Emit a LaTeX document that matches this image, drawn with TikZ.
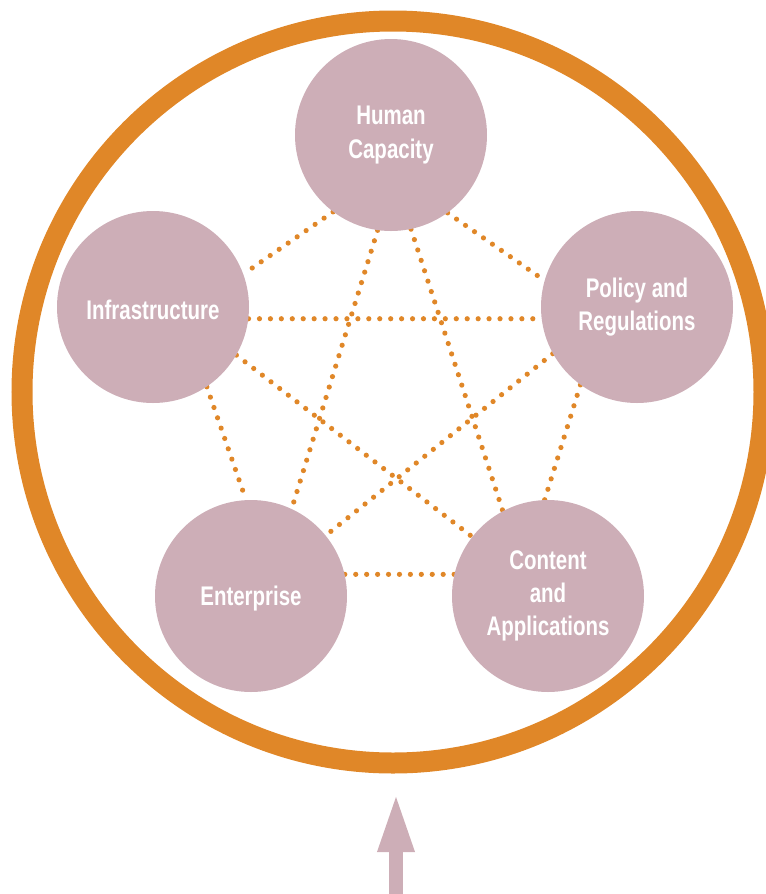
\documentclass[tikz,border=0pt]{standalone}
\usepackage{fontspec}
\setmainfont{Liberation Sans}[FakeStretch=0.76]
\usetikzlibrary{arrows.meta,backgrounds}
\definecolor{ringorange}{RGB}{224,135,40}
\definecolor{mauve}{RGB}{205,174,183}
\tikzstyle{pillar} = [circle, minimum size=144pt, inner sep=0pt, fill=mauve, text=white, align=center, font=\bfseries\fontsize{20.2}{25}\selectfont]
\tikzstyle{link} = [ringorange, line width=3.9pt, line cap=round, dash pattern=on 0pt off 8.2pt]
\newcommand{\lowered}[1]{\raisebox{-2.2pt}[\height][\depth]{#1}}

\begin{document}
\begin{tikzpicture}[x=0.75pt, y=-0.75pt]
            \clip (0,0) rectangle (766,894);

            % outer ring
            \draw[ringorange, line width=15.75pt] (393,392) circle[radius=278.25pt];

            \node[pillar] (Human) at (391,135) {Human\\Capacity};
            \node[pillar] (Infra) at (153,307) {\lowered{Infrastructure}};
            \node[pillar] (Policy) at (637,307) {Policy and\\Regulations};
            \node[pillar] (Enter) at (251,596) {\lowered{Enterprise}};
            \node[pillar] (Content) at (548,596) {Content\\and\\Applications};

            % dotted links, behind the circles
            \begin{scope}[on background layer]
            \path
                [link, draw]
                (Human.233) -- (Infra.20)
                (Human.306) -- (Policy.164)
                (Human.262) -- (Enter.65)
                (Human.282) -- (Content.118);
            \path
                [link, draw]
                (Infra.353) -- (Policy.187)
                (Infra.330) -- (Content.142)
                (Infra.304) -- (Enter.93);
            \path
                [link, draw]
                (Policy.209) -- (Enter.39)
                (Policy.234) -- (Content.92)
                (Enter.13) -- (Content.167);
            \end{scope}

            \coordinate (ArrowFoot) at (396,900);
            \coordinate (ArrowTip) at (396,792);
            \draw[mauve, line width=10.5pt, -{Triangle[length=45pt,width=24.75pt]}] (ArrowFoot) -- (ArrowTip);
        \end{tikzpicture}
\end{document}
